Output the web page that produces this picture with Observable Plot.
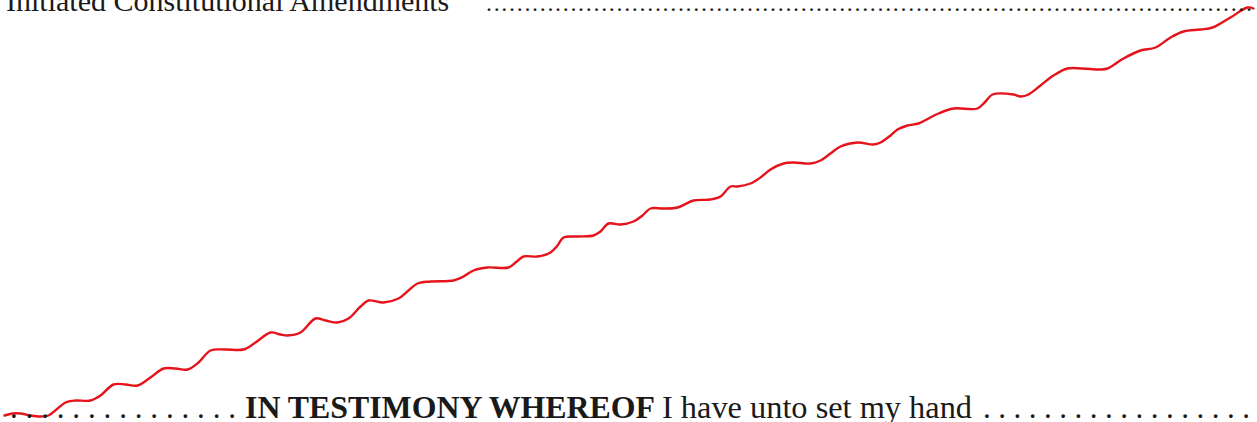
<!DOCTYPE html>
<html>
<head>
<meta charset="utf-8">
<script src="https://cdn.jsdelivr.net/npm/d3@7"></script>
<script src="https://cdn.jsdelivr.net/npm/@observablehq/plot@0.6"></script>
<style>
  html, body { margin: 0; padding: 0; background: #ffffff; }
  #chart { width: 1257px; height: 422px; overflow: hidden; }
  svg { display: block; }
</style>
</head>
<body>
<div id="chart"></div>
<script>
// Text of the scanned page
const headingText = "Initiated Constitutional Amendments";
const captionBold = "IN TESTIMONY WHEREOF";
const captionRest = "I have unto set my hand";

// Hand-drawn red line: horizontal position and height above the bottom edge (px units of the page)
const lineX = [4,12,20,30,40,48,56,65,75,90,100,113,125,137,150,163,175,187,198,210,225,243,255,270,280,287,300,315,325,337,348,360,368,383,398,408,417,430,453,463,473,487,508,515,523,537,550,557,563,577,593,600,608,620,633,642,650,663,677,693,710,720,730,737,750,760,770,783,793,810,820,830,840,857,873,880,890,897,907,918,928,938,953,977,985,992,1013,1020,1028,1040,1053,1067,1082,1100,1107,1123,1140,1155,1170,1183,1200,1212,1230,1247,1253];
const lineTop = [415,413,413,415,416,415,409,402,400,400,395,384,384,385,377,368,368,369,362,350,349,349,342,332,334,335,332,318,320,322,318,306,300,302,298,290,283,281,280,276,270,267,267,262,256,256,252,245,237,236,235,231,223,224,221,215,208,208,207,200,199,196,186,186,183,177,169,163,162,163,160,153,146,142,144,142,135,129,125,123,118,113,108,108,101,94,94,96,94,85,75,68,68,69,68,58,50,47,37,31,29,27,17,7,8];
const lineY = lineTop.map(t => 422 - t);

const W = 1257, H = 422;
const points = lineX.map((x, i) => ({x, y: lineY[i]}));

const plot = Plot.plot({
  width: W,
  height: H,
  margin: 0,
  x: {domain: [0, W], axis: null},
  y: {domain: [0, H], axis: null},
  style: {background: "#ffffff", overflow: "visible"},
  marks: [
    Plot.line(points, {x: "x", y: "y", stroke: "#e5131b", strokeWidth: 2.4, curve: "catmull-rom", strokeLinecap: "round", strokeLinejoin: "round"})
  ]
});
document.getElementById("chart").appendChild(plot);

// Page text (title line at top and caption line at bottom)
const svgSel = d3.select(plot);
const headLine = svgSel.append("text")
  .attr("font-family", "'Liberation Serif', 'Times New Roman', serif")
  .attr("font-size", 30)
  .attr("text-anchor", "start")
  .style("text-anchor", "start")
  .attr("fill", "#1a1a1a")
  .attr("y", 11);
headLine.append("tspan").attr("x", 6).text(headingText);
headLine.append("tspan").attr("x", 486).attr("textLength", 766).attr("lengthAdjust", "spacing")
  .attr("font-size", 24)
  .text(".".repeat(100));

const footLine = svgSel.append("text")
  .attr("font-family", "'Liberation Serif', 'Times New Roman', serif")
  .attr("font-size", 31)
  .attr("text-anchor", "start")
  .style("text-anchor", "start")
  .attr("fill", "#1a1a1a")
  .attr("y", 418);
footLine.append("tspan").attr("x", 10).attr("textLength", 226).attr("lengthAdjust", "spacing")
  .text(".".repeat(15));
footLine.append("tspan").attr("x", 245).attr("font-weight", "bold")
  .attr("textLength", 410).attr("lengthAdjust", "spacingAndGlyphs").text(captionBold);
footLine.append("tspan").attr("x", 662)
  .attr("textLength", 310).attr("lengthAdjust", "spacingAndGlyphs").text(captionRest);
footLine.append("tspan").attr("x", 983).attr("textLength", 267).attr("lengthAdjust", "spacing")
  .text(".".repeat(18));
</script>
</body>
</html>
